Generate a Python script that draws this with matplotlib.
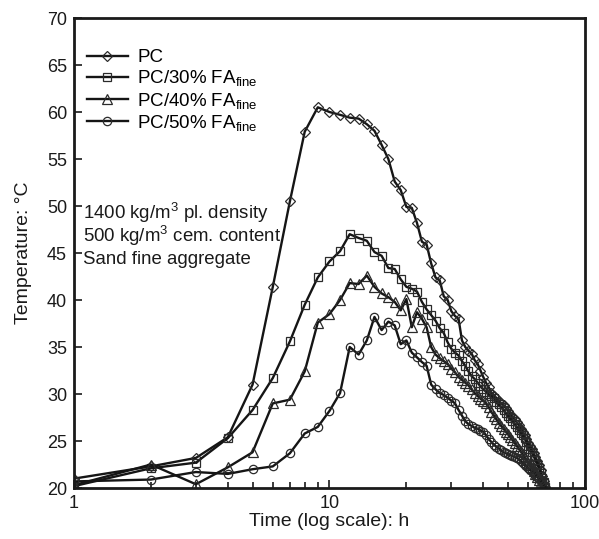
import numpy as np
import matplotlib
matplotlib.use('Agg')
import matplotlib.pyplot as plt
from matplotlib.ticker import FixedLocator, NullFormatter

plt.rcParams['font.family'] = ['Liberation Sans', 'DejaVu Sans']
plt.rcParams['mathtext.fontset'] = 'custom'
plt.rcParams['mathtext.rm'] = 'Liberation Sans'
plt.rcParams['mathtext.it'] = 'Liberation Sans:italic'

# hourly readings, 1 h .. 70 h
HOURS = list(range(1, 71))

TEMP_PC = [21.0, 22.3, 23.2, 25.4, 31.0, 41.4, 50.5, 57.9, 60.5, 60.0,
           59.7, 59.4, 59.3, 58.7, 58.0, 56.5, 55.0, 52.6, 51.7, 49.9,
           49.8, 48.2, 46.2, 45.9, 43.9, 42.4, 42.1, 40.4, 40.0, 38.8,
           38.3, 38.0, 35.7, 35.0, 34.6, 34.3, 33.6, 33.2, 32.5, 31.8,
           31.2, 30.7, 30.1, 29.8, 29.6, 29.3, 29.0, 28.8, 28.5, 28.2,
           27.9, 27.6, 27.3, 27.0, 26.7, 26.3, 26.0, 25.6, 25.2, 24.8,
           24.5, 24.1, 23.7, 23.3, 22.9, 22.4, 21.9, 21.3, 20.7, 20.1]

TEMP_FA30 = [20.2, 22.1, 22.7, 25.3, 28.3, 31.7, 35.6, 39.5, 42.4, 44.1,
             45.2, 47.0, 46.6, 46.3, 45.1, 44.7, 43.4, 43.3, 42.2, 41.4,
             41.2, 40.9, 39.8, 39.0, 38.4, 37.8, 37.0, 36.5, 35.5, 34.8,
             34.4, 34.1, 33.5, 33.0, 32.4, 31.9, 31.6, 31.2, 30.8, 30.5,
             30.25, 30.0, 29.8, 29.6, 29.2, 28.9, 28.6, 28.3, 28.0, 27.7,
             27.4, 27.1, 26.8, 26.5, 26.2, 25.9, 25.6, 25.3, 24.9, 24.5,
             24.2, 23.8, 23.4, 23.0, 22.6, 22.1, 21.6, 21.1, 20.6, 20.1]

TEMP_FA40 = [20.3, 22.5, 20.4, 22.2, 23.8, 29.0, 29.4, 32.4, 37.6, 38.5,
             40.0, 41.8, 41.7, 42.6, 41.4, 40.7, 40.3, 39.8, 38.9, 40.1,
             37.1, 38.7, 38.0, 37.1, 35.0, 34.2, 33.8, 33.5, 33.2, 32.7,
             32.3, 31.8, 31.5, 31.2, 30.9, 30.5, 30.1, 29.8, 29.5, 29.3,
             29.0, 28.6, 28.1, 27.7, 27.3, 26.9, 26.6, 26.3, 26.0, 25.7,
             25.4, 25.1, 24.8, 24.5, 24.2, 23.9, 23.6, 23.3, 23.0, 22.7,
             22.4, 22.1, 21.8, 21.5, 21.2, 20.9, 20.6, 20.4, 20.2, 20.0]

TEMP_FA50 = [20.7, 20.9, 21.7, 21.5, 22.0, 22.3, 23.7, 25.8, 26.5, 28.2,
             30.1, 35.0, 34.2, 35.7, 38.2, 36.8, 37.7, 37.3, 35.3, 35.7,
             34.4, 33.9, 33.4, 33.0, 31.0, 30.5, 30.1, 29.9, 29.6, 29.3,
             29.0, 28.3, 27.7, 27.1, 26.8, 26.6, 26.4, 26.3, 26.1, 26.0,
             25.6, 25.2, 24.9, 24.6, 24.4, 24.2, 24.0, 23.8, 23.7, 23.6,
             23.5, 23.4, 23.3, 23.2, 23.1, 22.9, 22.7, 22.5, 22.3, 22.1,
             21.9, 21.8, 21.6, 21.4, 21.2, 21.0, 20.8, 20.6, 20.3, 20.1]

SERIES = [
    ('PC', TEMP_PC, 'D', 5),
    (r'PC/30% FA$_{\mathrm{fine}}$', TEMP_FA30, 's', 6),
    (r'PC/40% FA$_{\mathrm{fine}}$', TEMP_FA40, '^', 6.5),
    (r'PC/50% FA$_{\mathrm{fine}}$', TEMP_FA50, 'o', 6),
]

NOTES = ['1400 kg/m$^3$ pl. density',
         '500 kg/m$^3$ cem. content',
         'Sand fine aggregate']

fig = plt.figure(figsize=(5.99, 5.39), dpi=100)
ax = fig.add_axes([0.1235, 0.0946, 0.8531, 0.872])

for label, temps, marker, msize in SERIES:
    ax.plot(HOURS, temps, color='#151515', lw=1.7, marker=marker,
            markersize=msize, markerfacecolor='none',
            markeredgecolor='#2a2a2a', markeredgewidth=0.9, label=label)

ax.set_xscale('log')
ax.set_xlim(1, 100)
ax.set_ylim(20, 70)
ax.set_yticks(np.arange(20, 71, 5))
ax.xaxis.set_major_locator(FixedLocator([1, 10, 100]))
ax.set_xticklabels(['1', '10', '100'])
minor = [m * d for d in (1, 10) for m in range(2, 10)]
ax.xaxis.set_minor_locator(FixedLocator(minor))
ax.xaxis.set_minor_formatter(NullFormatter())

ax.tick_params(which='both', direction='in', labelsize=13, colors='#1a1a1a',
               width=1.2)
ax.tick_params(which='major', length=6, pad=5)
ax.tick_params(which='minor', length=4)
for sp in ax.spines.values():
    sp.set_linewidth(2)
    sp.set_color('#1a1a1a')

ax.set_xlabel('Time (log scale): h', fontsize=14, color='#1a1a1a', labelpad=1)
ax.set_ylabel('Temperature: °C', fontsize=14, color='#1a1a1a', labelpad=11)

ax.legend(loc='upper left', frameon=False, fontsize=13.5, handlelength=2.2,
          handletextpad=0.5, labelspacing=0.12, borderaxespad=0.0,
          bbox_to_anchor=(0.01, 0.95))

for i, note in enumerate(NOTES):
    ax.text(0.018, 0.585 - i * 0.049, note, transform=ax.transAxes,
            fontsize=13.4, color='#1a1a1a', va='center', ha='left')

fig.savefig('out.png', dpi=100)
